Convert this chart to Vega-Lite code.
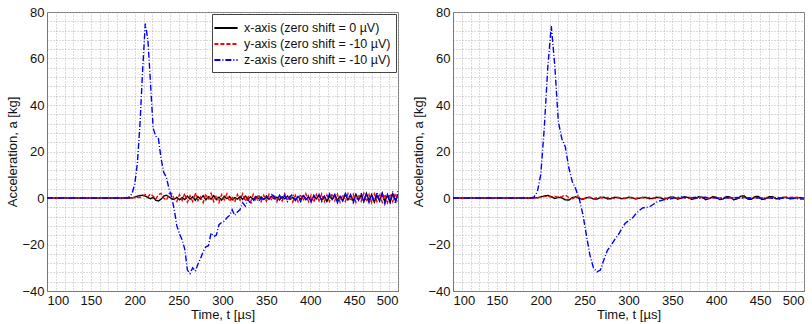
{
  "$schema": "https://vega.github.io/schema/vega-lite/v6.json",
  "padding": {"left": 6, "top": 5, "right": 5, "bottom": 0},
  "spacing": 13,
  "background": "white",
  "config": {
    "font": "Liberation Sans",
    "view": {"stroke": "#777", "strokeWidth": 1},
    "axis": {
      "labelFont": "Liberation Sans",
      "labelFontSize": 13,
      "labelColor": "#111",
      "titleFont": "Liberation Sans",
      "titleFontSize": 13,
      "titleFontWeight": "normal",
      "titleColor": "#111",
      "grid": true,
      "gridColor": "#aaa",
      "gridDash": [1, 2],
      "gridWidth": 1,
      "gridOpacity": 0.85,
      "ticks": false,
      "domainColor": "#777",
      "labelPadding": 3
    }
  },
  "resolve": {"legend": {"color": "independent", "strokeDash": "independent"}},
  "datasets": {
    "L": [
      {"t":100,"x":0,"y":0,"z":0},
      {"t":191,"x":0,"y":0,"z":0},
      {"t":194,"x":0,"y":0,"z":0.5},
      {"t":197,"x":0.1,"y":0.1,"z":2},
      {"t":200,"x":0.3,"y":0.2,"z":6},
      {"t":203,"x":0.8,"y":0.3,"z":15},
      {"t":206,"x":1,"y":0.2,"z":32},
      {"t":209,"x":1.2,"y":0.8,"z":55},
      {"t":212,"x":0.8,"y":1.5,"z":75},
      {"t":215,"x":0.2,"y":0.5,"z":68},
      {"t":218,"x":-0.3,"y":1.8,"z":49},
      {"t":221,"x":0.3,"y":0.8,"z":30},
      {"t":224,"x":-1,"y":-0.5,"z":26.5},
      {"t":227,"x":-1.3,"y":1.5,"z":25.5},
      {"t":230,"x":-0.5,"y":2,"z":17},
      {"t":233,"x":0.8,"y":0,"z":11},
      {"t":236,"x":1.2,"y":-1,"z":9},
      {"t":239,"x":0.5,"y":1.8,"z":4},
      {"t":242,"x":-0.3,"y":2,"z":0.5},
      {"t":245,"x":-0.6,"y":-0.5,"z":-5},
      {"t":248,"x":0.3,"y":-1.5,"z":-12},
      {"t":251,"x":-0.8,"y":1.5,"z":-15.5},
      {"t":254,"x":0.2,"y":-1,"z":-18},
      {"t":257,"x":-0.7,"y":2,"z":-22},
      {"t":260,"x":0.8,"y":-1.8,"z":-31},
      {"t":263,"x":-0.5,"y":1,"z":-32.5},
      {"t":266,"x":0.5,"y":-1.5,"z":-30},
      {"t":269,"x":-1,"y":2.2,"z":-31.5},
      {"t":272,"x":0.6,"y":-1.2,"z":-28.5},
      {"t":275,"x":-0.4,"y":0.5,"z":-26},
      {"t":278,"x":1,"y":-2,"z":-23},
      {"t":281,"x":-0.8,"y":1.8,"z":-21},
      {"t":284,"x":0.5,"y":-1,"z":-20.5},
      {"t":287,"x":-0.5,"y":2,"z":-15},
      {"t":290,"x":1,"y":-1.5,"z":-16.5},
      {"t":293,"x":-0.7,"y":1.2,"z":-16},
      {"t":296,"x":0.4,"y":-2,"z":-11.5},
      {"t":299,"x":-0.9,"y":1.5,"z":-10.5},
      {"t":302,"x":0.7,"y":-0.8,"z":-10},
      {"t":305,"x":-0.3,"y":1.8,"z":-8.5},
      {"t":308,"x":0.6,"y":-1.5,"z":-7.5},
      {"t":311,"x":-0.8,"y":0.8,"z":-5},
      {"t":314,"x":0.2,"y":-1.8,"z":-7.5},
      {"t":317,"x":-0.5,"y":1.5,"z":-6},
      {"t":320,"x":0.6,"y":-1,"z":-5},
      {"t":323,"x":-0.6,"y":1.8,"z":-2},
      {"t":326,"x":0.8,"y":-1.5,"z":-3.5},
      {"t":329,"x":-0.4,"y":1,"z":-0.5},
      {"t":332,"x":0.5,"y":-1.8,"z":-2.5},
      {"t":335,"x":-0.7,"y":1.6,"z":-1.5},
      {"t":338,"x":0.6,"y":-1.2,"z":0.5},
      {"t":341,"x":-0.2,"y":1.5,"z":-1.5},
      {"t":344,"x":0.5,"y":-1.5,"z":0},
      {"t":347,"x":-0.6,"y":1.2,"z":-1},
      {"t":350,"x":0.3,"y":-1.4,"z":1},
      {"t":353,"x":-0.5,"y":1.6,"z":-0.5},
      {"t":356,"x":0.7,"y":-1,"z":1.5},
      {"t":359,"x":-0.4,"y":1.5,"z":0.5},
      {"t":362,"x":0.4,"y":-1.6,"z":-1},
      {"t":365,"x":-0.8,"y":1.2,"z":1},
      {"t":368,"x":0.6,"y":-1.3,"z":-0.8},
      {"t":371,"x":-0.3,"y":1.8,"z":1.2},
      {"t":374,"x":0.8,"y":-1.2,"z":-1.5},
      {"t":377,"x":-0.6,"y":1.4,"z":0.5},
      {"t":380,"x":0.3,"y":-1.7,"z":1.8},
      {"t":383,"x":-1,"y":1.2,"z":-1},
      {"t":386,"x":0.6,"y":-1.5,"z":0.8},
      {"t":389,"x":-0.5,"y":1.6,"z":-1.5},
      {"t":392,"x":1,"y":-1.2,"z":1.5},
      {"t":395,"x":-0.7,"y":1.8,"z":-0.5},
      {"t":398,"x":0.5,"y":-1.5,"z":1},
      {"t":401,"x":-1.2,"y":1.2,"z":-1.8},
      {"t":404,"x":0.8,"y":-1.8,"z":1.2},
      {"t":407,"x":-0.4,"y":1.5,"z":-0.5},
      {"t":410,"x":1.2,"y":-1.2,"z":1.5},
      {"t":413,"x":-0.9,"y":1.8,"z":-1.5},
      {"t":416,"x":0.6,"y":-1.6,"z":0.8},
      {"t":419,"x":-1.5,"y":1.3,"z":-1},
      {"t":422,"x":0.9,"y":-1.5,"z":1.8},
      {"t":425,"x":-0.6,"y":1.9,"z":-0.8},
      {"t":428,"x":1.3,"y":-1.2,"z":1.5},
      {"t":431,"x":-1,"y":1.6,"z":-2},
      {"t":434,"x":0.7,"y":-1.8,"z":1},
      {"t":437,"x":-1.2,"y":1.4,"z":-1.2},
      {"t":440,"x":1.5,"y":-1.5,"z":2},
      {"t":443,"x":-0.8,"y":1.9,"z":-0.5},
      {"t":446,"x":1,"y":-1.3,"z":1.5},
      {"t":449,"x":-1.3,"y":1.6,"z":-2},
      {"t":452,"x":1.6,"y":-1.9,"z":1.2},
      {"t":455,"x":-0.7,"y":1.5,"z":-1},
      {"t":458,"x":1.2,"y":-1.4,"z":2.2},
      {"t":461,"x":-1.5,"y":2,"z":-1.5},
      {"t":464,"x":2,"y":-1.6,"z":1.8},
      {"t":467,"x":-1,"y":1.5,"z":-2},
      {"t":470,"x":1.5,"y":-2,"z":1},
      {"t":473,"x":-1.8,"y":1.8,"z":-1.8},
      {"t":476,"x":1.2,"y":-1.5,"z":2.5},
      {"t":479,"x":-1.2,"y":2,"z":-1.2},
      {"t":482,"x":2,"y":-1.8,"z":2},
      {"t":485,"x":-1.5,"y":1.6,"z":-2.5},
      {"t":488,"x":1.3,"y":-2,"z":1.5},
      {"t":491,"x":-1.8,"y":1.8,"z":-1.8},
      {"t":494,"x":1.8,"y":-1.6,"z":2.8},
      {"t":497,"x":-1,"y":2,"z":-2.5},
      {"t":500,"x":1.5,"y":-1.5,"z":3}
    ],
    "R": [
      {"t":100,"x":0,"y":0,"z":0},
      {"t":188,"x":0,"y":0,"z":0},
      {"t":192,"x":0,"y":0,"z":0.3},
      {"t":196,"x":0.1,"y":0.1,"z":2.5},
      {"t":200,"x":0.4,"y":0.3,"z":10},
      {"t":204,"x":0.9,"y":0.6,"z":30},
      {"t":208,"x":1.1,"y":0.8,"z":56},
      {"t":212,"x":0.6,"y":0.3,"z":74},
      {"t":216,"x":-0.2,"y":0.8,"z":57},
      {"t":220,"x":0.3,"y":0.2,"z":33},
      {"t":224,"x":0.1,"y":0.6,"z":25.5},
      {"t":228,"x":-0.8,"y":1.3,"z":22},
      {"t":232,"x":-0.9,"y":0.2,"z":13},
      {"t":236,"x":0.2,"y":-0.3,"z":7},
      {"t":240,"x":0.5,"y":0.5,"z":3.8},
      {"t":244,"x":-0.2,"y":0.3,"z":-0.5},
      {"t":248,"x":-0.6,"y":-0.4,"z":-7},
      {"t":252,"x":0.1,"y":0.2,"z":-16},
      {"t":256,"x":0.3,"y":0.3,"z":-24.5},
      {"t":260,"x":-0.4,"y":-0.3,"z":-30},
      {"t":264,"x":-0.5,"y":0.1,"z":-31.8},
      {"t":268,"x":0.2,"y":0.3,"z":-31},
      {"t":272,"x":0.3,"y":-0.2,"z":-26.5},
      {"t":276,"x":-0.4,"y":0.2,"z":-22.5},
      {"t":280,"x":-0.3,"y":0.1,"z":-20.5},
      {"t":284,"x":0.3,"y":-0.2,"z":-18},
      {"t":288,"x":0.2,"y":0.2,"z":-16},
      {"t":292,"x":-0.3,"y":0.1,"z":-13.5},
      {"t":296,"x":-0.2,"y":-0.1,"z":-11},
      {"t":300,"x":0.3,"y":0.2,"z":-9.8},
      {"t":304,"x":0.2,"y":0,"z":-8.8},
      {"t":308,"x":-0.4,"y":-0.2,"z":-7},
      {"t":312,"x":-0.1,"y":0.2,"z":-5.5},
      {"t":316,"x":0.3,"y":0.1,"z":-4.3},
      {"t":320,"x":0.2,"y":-0.1,"z":-4},
      {"t":324,"x":-0.3,"y":0.2,"z":-3.8},
      {"t":328,"x":-0.2,"y":0,"z":-2.8},
      {"t":332,"x":0.3,"y":-0.1,"z":-1.8},
      {"t":336,"x":0.2,"y":0.2,"z":-1.2},
      {"t":340,"x":-0.5,"y":0.1,"z":-0.8},
      {"t":344,"x":-0.2,"y":-0.1,"z":-0.6},
      {"t":348,"x":0.4,"y":0.2,"z":-0.4},
      {"t":352,"x":0.3,"y":0.1,"z":0},
      {"t":356,"x":-0.5,"y":0,"z":0.3},
      {"t":360,"x":-0.1,"y":0.2,"z":0.4},
      {"t":364,"x":0.5,"y":0.1,"z":0.2},
      {"t":368,"x":0.2,"y":-0.1,"z":0.4},
      {"t":372,"x":-0.6,"y":0.2,"z":0},
      {"t":376,"x":-0.2,"y":0.1,"z":0.3},
      {"t":380,"x":0.5,"y":0,"z":-0.2},
      {"t":384,"x":0.3,"y":0.2,"z":0.2},
      {"t":388,"x":-0.7,"y":0.1,"z":0.3},
      {"t":392,"x":-0.3,"y":-0.1,"z":-0.2},
      {"t":396,"x":0.6,"y":0.2,"z":0.2},
      {"t":400,"x":0.3,"y":0.1,"z":0},
      {"t":404,"x":-0.7,"y":0,"z":-0.3},
      {"t":408,"x":-0.4,"y":0.2,"z":0.1},
      {"t":412,"x":0.6,"y":0.1,"z":0.2},
      {"t":416,"x":0.4,"y":0,"z":-0.2},
      {"t":420,"x":-0.8,"y":0.2,"z":0.1},
      {"t":424,"x":-0.3,"y":0.1,"z":0.2},
      {"t":428,"x":0.8,"y":0,"z":-0.1},
      {"t":432,"x":0.9,"y":0.2,"z":0.2},
      {"t":436,"x":-0.5,"y":0.1,"z":0},
      {"t":440,"x":-0.6,"y":0,"z":-0.2},
      {"t":444,"x":0.6,"y":0.2,"z":0.1},
      {"t":448,"x":0.7,"y":0.1,"z":0},
      {"t":452,"x":-0.6,"y":0,"z":-0.2},
      {"t":456,"x":-0.4,"y":0.2,"z":0},
      {"t":460,"x":0.5,"y":0.1,"z":0.1},
      {"t":464,"x":0.6,"y":0.2,"z":-0.1},
      {"t":468,"x":-0.3,"y":0.3,"z":0},
      {"t":472,"x":-0.4,"y":0.1,"z":-0.2},
      {"t":476,"x":0.3,"y":0.2,"z":0},
      {"t":480,"x":0.2,"y":0.3,"z":0.1},
      {"t":484,"x":-0.3,"y":0.2,"z":-0.2},
      {"t":488,"x":-0.2,"y":0.3,"z":-0.1},
      {"t":492,"x":0.2,"y":0.2,"z":-0.3},
      {"t":496,"x":0.1,"y":0.1,"z":-0.4},
      {"t":500,"x":0,"y":0,"z":-0.5}
    ]
  },
  "hconcat": [
    {
      "width": 351,
      "height": 279,
      "data": {"name": "L"},
      "transform": [{"fold": ["x", "y", "z"], "as": ["s", "a"]}],
      "mark": {"type": "line", "strokeWidth": 1.4, "clip": true},
      "encoding": {
        "x": {
          "field": "t", "type": "quantitative",
          "scale": {"domain": [100, 500], "nice": false},
          "axis": {
            "title": "Time, t [µs]",
            "values": [100,110,120,130,140,150,160,170,180,190,200,210,220,230,240,250,260,270,280,290,300,310,320,330,340,350,360,370,380,390,400,410,420,430,440,450,460,470,480,490,500],
            "labelExpr": "datum.value % 50 == 0 ? datum.label : ''",
            "titlePadding": 1
          }
        },
        "y": {
          "field": "a", "type": "quantitative",
          "scale": {"domain": [-40, 80], "nice": false},
          "axis": {
            "title": "Acceleration, a [kg]",
            "values": [-40,-36,-32,-28,-24,-20,-16,-12,-8,-4,0,4,8,12,16,20,24,28,32,36,40,44,48,52,56,60,64,68,72,76,80],
            "labelExpr": "datum.value % 20 == 0 ? datum.label : ''",
            "titlePadding": 2
          }
        },
        "color": {
          "field": "s", "type": "nominal",
          "scale": {"domain": ["x", "y", "z"], "range": ["#000000", "#ff0000", "#0000ff"]},
          "legend": {
            "title": null,
            "orient": "top-right",
            "offset": 2,
            "fillColor": "white",
            "strokeColor": "#444",
            "padding": 5,
            "labelFont": "Liberation Sans",
            "labelFontSize": 12.5,
            "labelColor": "#111",
            "labelOffset": 9,
            "rowPadding": 0,
            "symbolType": "M-1.45,0H1.45",
            "symbolSize": 256,
            "symbolStrokeWidth": 2,
            "labelExpr": "datum.label == 'x' ? 'x-axis (zero shift = 0 µV)' : datum.label == 'y' ? 'y-axis (zero shift = -10 µV)' : 'z-axis (zero shift = -10 µV)'"
          }
        },
        "strokeDash": {
          "field": "s", "type": "nominal",
          "scale": {"domain": ["x", "y", "z"], "range": [[1, 0], [4, 2], [6, 2, 1, 2]]},
          "legend": {
            "title": null,
            "orient": "top-right",
            "labelExpr": "datum.label == 'x' ? 'x-axis (zero shift = 0 µV)' : datum.label == 'y' ? 'y-axis (zero shift = -10 µV)' : 'z-axis (zero shift = -10 µV)'"
          }
        }
      }
    },
    {
      "width": 351,
      "height": 279,
      "data": {"name": "R"},
      "transform": [{"fold": ["x", "y", "z"], "as": ["s", "a"]}],
      "mark": {"type": "line", "strokeWidth": 1.4, "clip": true},
      "encoding": {
        "x": {
          "field": "t", "type": "quantitative",
          "scale": {"domain": [100, 500], "nice": false},
          "axis": {
            "title": "Time, t [µs]",
            "values": [100,110,120,130,140,150,160,170,180,190,200,210,220,230,240,250,260,270,280,290,300,310,320,330,340,350,360,370,380,390,400,410,420,430,440,450,460,470,480,490,500],
            "labelExpr": "datum.value % 50 == 0 ? datum.label : ''",
            "titlePadding": 1
          }
        },
        "y": {
          "field": "a", "type": "quantitative",
          "scale": {"domain": [-40, 80], "nice": false},
          "axis": {
            "title": "Acceleration, a [kg]",
            "values": [-40,-36,-32,-28,-24,-20,-16,-12,-8,-4,0,4,8,12,16,20,24,28,32,36,40,44,48,52,56,60,64,68,72,76,80],
            "labelExpr": "datum.value % 20 == 0 ? datum.label : ''",
            "titlePadding": 2
          }
        },
        "color": {
          "field": "s", "type": "nominal",
          "scale": {"domain": ["x", "y", "z"], "range": ["#000000", "#ff0000", "#0000ff"]},
          "legend": null
        },
        "strokeDash": {
          "field": "s", "type": "nominal",
          "scale": {"domain": ["x", "y", "z"], "range": [[1, 0], [4, 2], [6, 2, 1, 2]]},
          "legend": null
        }
      }
    }
  ]
}
